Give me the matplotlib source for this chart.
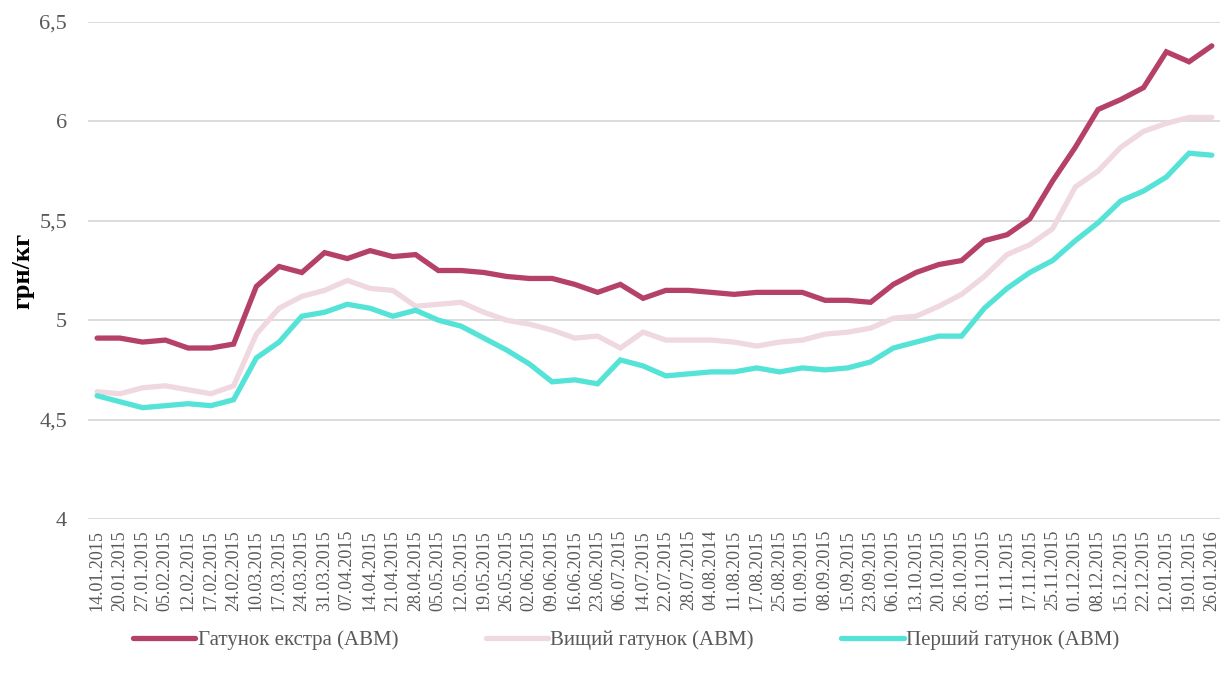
import matplotlib
matplotlib.use("Agg")
import matplotlib.pyplot as plt

dates = ["14.01.2015", "20.01.2015", "27.01.2015", "05.02.2015", "12.02.2015", "17.02.2015",
         "24.02.2015", "10.03.2015", "17.03.2015", "24.03.2015", "31.03.2015", "07.04.2015",
         "14.04.2015", "21.04.2015", "28.04.2015", "05.05.2015", "12.05.2015", "19.05.2015",
         "26.05.2015", "02.06.2015", "09.06.2015", "16.06.2015", "23.06.2015", "06.07.2015",
         "14.07.2015", "22.07.2015", "28.07.2015", "04.08.2014", "11.08.2015", "17.08.2015",
         "25.08.2015", "01.09.2015", "08.09.2015", "15.09.2015", "23.09.2015", "06.10.2015",
         "13.10.2015", "20.10.2015", "26.10.2015", "03.11.2015", "11.11.2015", "17.11.2015",
         "25.11.2015", "01.12.2015", "08.12.2015", "15.12.2015", "22.12.2015", "12.01.2015",
         "19.01.2015", "26.01.2016"]

extra = [4.91, 4.91, 4.89, 4.90, 4.86, 4.86, 4.88, 5.17, 5.27, 5.24,
         5.34, 5.31, 5.35, 5.32, 5.33, 5.25, 5.25, 5.24, 5.22, 5.21,
         5.21, 5.18, 5.14, 5.18, 5.11, 5.15, 5.15, 5.14, 5.13, 5.14,
         5.14, 5.14, 5.10, 5.10, 5.09, 5.18, 5.24, 5.28, 5.30, 5.40,
         5.43, 5.51, 5.70, 5.87, 6.06, 6.11, 6.17, 6.35, 6.30, 6.38]

vyshchyi = [4.64, 4.63, 4.66, 4.67, 4.65, 4.63, 4.67, 4.93, 5.06, 5.12,
            5.15, 5.20, 5.16, 5.15, 5.07, 5.08, 5.09, 5.04, 5.00, 4.98,
            4.95, 4.91, 4.92, 4.86, 4.94, 4.90, 4.90, 4.90, 4.89, 4.87,
            4.89, 4.90, 4.93, 4.94, 4.96, 5.01, 5.02, 5.07, 5.13, 5.22,
            5.33, 5.38, 5.46, 5.67, 5.75, 5.87, 5.95, 5.99, 6.02, 6.02]

pershyi = [4.62, 4.59, 4.56, 4.57, 4.58, 4.57, 4.60, 4.81, 4.89, 5.02,
           5.04, 5.08, 5.06, 5.02, 5.05, 5.00, 4.97, 4.91, 4.85, 4.78,
           4.69, 4.70, 4.68, 4.80, 4.77, 4.72, 4.73, 4.74, 4.74, 4.76,
           4.74, 4.76, 4.75, 4.76, 4.79, 4.86, 4.89, 4.92, 4.92, 5.06,
           5.16, 5.24, 5.30, 5.40, 5.49, 5.60, 5.65, 5.72, 5.84, 5.83]

series_names = ["Гатунок екстра (АВМ)", "Вищий гатунок (АВМ)", "Перший гатунок (АВМ)"]
colors = ["#B5406A", "#F0D8E0", "#55E3D8"]
y_ticks = [4, 4.5, 5, 5.5, 6, 6.5]
y_tick_labels = ["4", "4,5", "5", "5,5", "6", "6,5"]

plt.rcParams['font.family'] = ['Liberation Serif', 'DejaVu Serif']

fig = plt.figure(figsize=(12.24, 6.81), dpi=100)
ax = fig.add_axes([88 / 1224, 1 - 519 / 681, (1220 - 88) / 1224, (519 - 22) / 681])

x = list(range(len(dates)))
for vals, name, c in zip([extra, vyshchyi, pershyi], series_names, colors):
    ax.plot(x, vals, color=c, lw=3.8, label=name, solid_capstyle='round', solid_joinstyle='miter')

ax.set_ylim(4, 6.5)
ax.set_xlim(-0.4, len(dates) - 1 + 0.36)
ax.set_yticks(y_ticks)
ax.set_yticklabels(y_tick_labels)
ax.set_xticks(x)
ax.set_xticklabels(dates, rotation=90)
ax.tick_params(axis='y', length=0, pad=15, labelsize=16, labelcolor='#595959')
ax.tick_params(axis='x', length=0, pad=8, labelsize=13, labelcolor='#595959')
ax.grid(axis='y', color='#D9D9D9', lw=1.3)
ax.set_axisbelow(True)
for s in ax.spines.values():
    s.set_visible(False)

ax.set_ylabel("грн/кг", fontsize=19, fontweight='bold', color='black', labelpad=4)

fig.legend(loc='center', bbox_to_anchor=(0.5 + 14 / 1224, 1 - 640 / 681), ncol=3, frameon=False,
           fontsize=15, handlelength=3.0, columnspacing=4.2, handletextpad=0.1,
           labelcolor='#595959')

fig.savefig("out.png", dpi=100)
